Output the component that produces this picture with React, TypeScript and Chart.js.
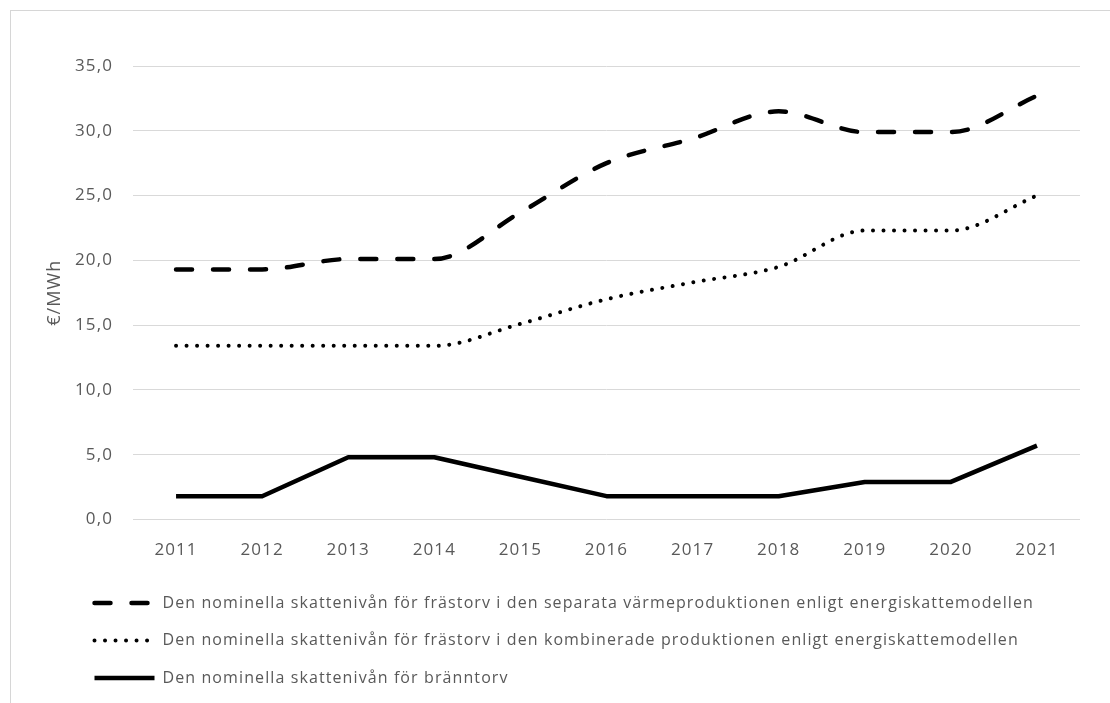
import React, { useEffect, useRef } from "react";
import { Chart, registerables } from "chart.js";

Chart.register(...registerables);

const years = ["2011", "2012", "2013", "2014", "2015", "2016", "2017", "2018", "2019", "2020", "2021"];
const separataValues = [19.3, 19.3, 20.1, 20.1, 23.7, 27.5, 29.4, 31.5, 29.9, 29.9, 32.7];
const kombineradeValues = [13.4, 13.4, 13.4, 13.4, 15.1, 17.0, 18.3, 19.5, 22.3, 22.3, 25.0];
const branntorvValues = [1.8, 1.8, 4.8, 4.8, 3.3, 1.8, 1.8, 1.8, 2.9, 2.9, 5.7];
const seriesLabels = [
  "Den nominella skattenivån för frästorv i den separata värmeproduktionen enligt energiskattemodellen",
  "Den nominella skattenivån för frästorv i den kombinerade produktionen enligt energiskattemodellen",
  "Den nominella skattenivån för bränntorv",
];
const yAxisTitle = "€/MWh";
const yMin = 0;
const yMax = 35;
const yStep = 5;

const FONT = "'Open Sans', 'Noto Sans', sans-serif";
const TEXT = "#595959";
const SPACING = "1.1px";

const textSpacing = {
  id: "textSpacing",
  beforeUpdate(chart: any) {
    (chart.ctx as any).letterSpacing = SPACING;
  },
  beforeLayout(chart: any) {
    (chart.ctx as any).letterSpacing = SPACING;
  },
  beforeDraw(chart: any) {
    (chart.ctx as any).letterSpacing = SPACING;
    if (chart.legend) chart.legend.left = 73;
  },
};

export default function App() {
  const ref = useRef<HTMLCanvasElement | null>(null);

  useEffect(() => {
    if (!ref.current) return;
    const chart = new Chart(ref.current, {
      type: "line",
      data: {
        labels: years,
        datasets: [
          {
            label: seriesLabels[0],
            data: separataValues,
            borderColor: "#000000",
            backgroundColor: "#000000",
            borderWidth: 4.5,
            borderDash: [16, 21],
            borderCapStyle: "round",
            cubicInterpolationMode: "monotone",
            pointRadius: 0,
          },
          {
            label: seriesLabels[1],
            data: kombineradeValues,
            borderColor: "#000000",
            backgroundColor: "#000000",
            borderWidth: 4,
            borderDash: [0.01, 10.5],
            borderCapStyle: "round",
            cubicInterpolationMode: "monotone",
            pointRadius: 0,
          },
          {
            label: seriesLabels[2],
            data: branntorvValues,
            borderColor: "#000000",
            backgroundColor: "#000000",
            borderWidth: 4.5,
            borderCapStyle: "butt",
            borderJoinStyle: "round",
            tension: 0,
            pointRadius: 0,
          },
        ],
      } as any,
      options: {
        responsive: false,
        animation: false,
        layout: { padding: { left: 10, right: 30, top: 66, bottom: 24 } },
        plugins: {
          tooltip: { enabled: false },
          legend: {
            position: "bottom",
            align: "start",
            labels: {
              usePointStyle: true,
              pointStyle: "line",
              pointStyleWidth: 60,
              boxWidth: 60,
              padding: 21.5,
              color: TEXT,
              font: { family: FONT, size: 16 },
              generateLabels: (c: any) =>
                c.data.datasets.map((ds: any, i: number) => ({
                  text: ds.label,
                  fillStyle: ds.borderColor,
                  strokeStyle: ds.borderColor,
                  lineWidth: ds.borderWidth,
                  lineDash: ds.borderDash || [],
                  lineCap: ds.borderCapStyle || "butt",
                  lineJoin: "miter",
                  pointStyle: "line",
                  fontColor: TEXT,
                  hidden: false,
                  datasetIndex: i,
                })),
            },
          },
        },
        scales: {
          x: {
            grid: { display: false, drawTicks: false },
            border: { display: false },
            offset: true,
            ticks: { color: TEXT, padding: 20, font: { family: FONT, size: 17 }, maxRotation: 0 },
            afterFit: (scale: any) => {
              scale.height = 54;
            },
          },
          y: {
            min: yMin,
            max: yMax,
            grid: { color: "#d9d9d9", lineWidth: 1, drawTicks: false },
            border: { display: false },
            ticks: {
              stepSize: yStep,
              color: TEXT,
              padding: 20,
              font: { family: FONT, size: 17 },
              callback: (v: any) => Number(v).toFixed(1).replace(".", ","),
            },
            title: {
              display: true,
              text: yAxisTitle,
              color: TEXT,
              font: { family: FONT, size: 18 },
              padding: { top: 34, bottom: 0 },
            },
            afterFit: (scale: any) => {
              scale.width = 123;
            },
          },
        },
      } as any,
      plugins: [textSpacing],
    });
    return () => chart.destroy();
  }, []);

  return (
    <div style={{ position: "fixed", left: 0, top: 0, width: 1110, height: 703, overflow: "hidden", background: "#fff" }}>
      <div
        style={{
          position: "absolute",
          left: 10,
          top: 10,
          width: 1200,
          height: 800,
          borderTop: "1px solid #d6d6d6",
          borderLeft: "1px solid #d6d6d6",
        }}
      />
      <canvas ref={ref} width={1110} height={720} style={{ position: "absolute", left: 0, top: 0 }} />
    </div>
  );
}
